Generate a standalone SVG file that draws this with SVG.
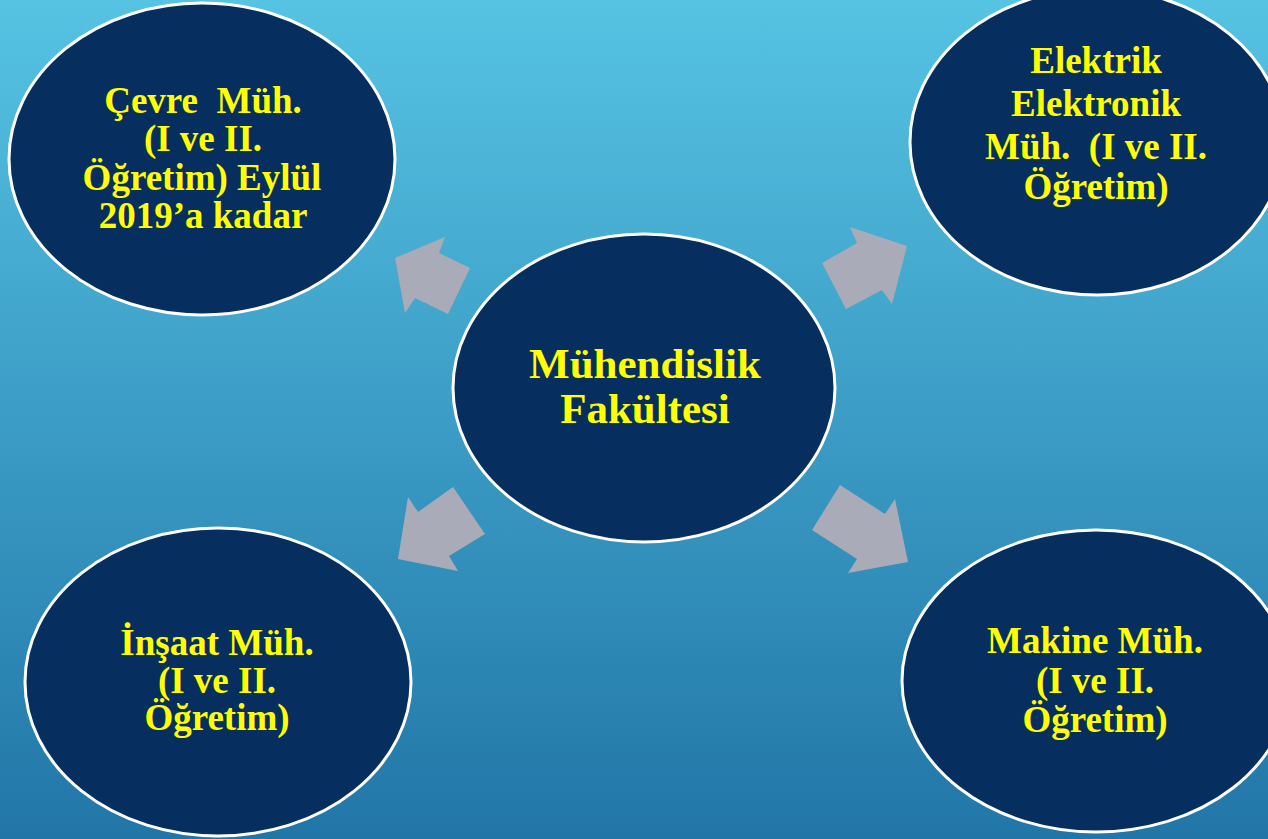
<svg xmlns="http://www.w3.org/2000/svg" width="1268" height="839" viewBox="0 0 1268 839">
<defs>
<linearGradient id="bg" x1="0" y1="0" x2="0" y2="1">
<stop offset="0" stop-color="#56C3E3"/>
<stop offset="1" stop-color="#2176A7"/>
</linearGradient>
<style>
.node{fill:#062E5F;stroke:#FFFFFF;stroke-width:3}
.lbl{font-family:"Liberation Serif","Times New Roman",serif;font-weight:bold;fill:#FFFF00;text-anchor:middle;white-space:pre}
.arr{fill:#A9ABB8}
</style>
</defs>
<rect width="1268" height="839" fill="url(#bg)"/>
<g id="connectors">
<polygon class="arr" points="395,258 445,237 439,253 470,268 448,314 415,298 405,313"/>
<polygon class="arr" points="907,246 850,227 857,243 822,263 846,309 882,290 892,304"/>
<polygon class="arr" points="398,559 408,497 418,512 453,487 485,534 449,556 458,571"/>
<polygon class="arr" points="908,562 895,499 885,514 840,485 812,530 857,559 848,573"/>
</g>
<g id="center">
<ellipse class="node" cx="644" cy="388" rx="191" ry="154"/>
<text class="lbl" font-size="43" x="645" y="378">Mühendislik</text>
<text class="lbl" font-size="43" x="645" y="423">Fakültesi</text>
</g>
<g id="cevre">
<ellipse class="node" cx="202" cy="159" rx="193" ry="156"/>
<text class="lbl" font-size="37" x="203" y="113">Çevre  Müh.</text>
<text class="lbl" font-size="37" x="203" y="151">(I ve II.</text>
<text class="lbl" font-size="37" x="202" y="190">Öğretim) Eylül</text>
<text class="lbl" font-size="37" x="203" y="228">2019’a kadar</text>
</g>
<g id="elektrik">
<ellipse class="node" cx="1097" cy="142" rx="187" ry="153"/>
<text class="lbl" font-size="37" x="1096" y="73">Elektrik</text>
<text class="lbl" font-size="37" x="1096" y="116">Elektronik</text>
<text class="lbl" font-size="37" x="1096" y="159">Müh.  (I ve II.</text>
<text class="lbl" font-size="37" x="1096" y="199">Öğretim)</text>
</g>
<g id="insaat">
<ellipse class="node" cx="218" cy="682" rx="193" ry="154"/>
<text class="lbl" font-size="37" x="217" y="655">İnşaat Müh.</text>
<text class="lbl" font-size="37" x="217" y="693">(I ve II.</text>
<text class="lbl" font-size="37" x="217" y="730">Öğretim)</text>
</g>
<g id="makine">
<ellipse class="node" cx="1096" cy="681" rx="194" ry="151"/>
<text class="lbl" font-size="37" x="1095" y="653">Makine Müh.</text>
<text class="lbl" font-size="37" x="1095" y="693">(I ve II.</text>
<text class="lbl" font-size="37" x="1095" y="732">Öğretim)</text>
</g>
</svg>
